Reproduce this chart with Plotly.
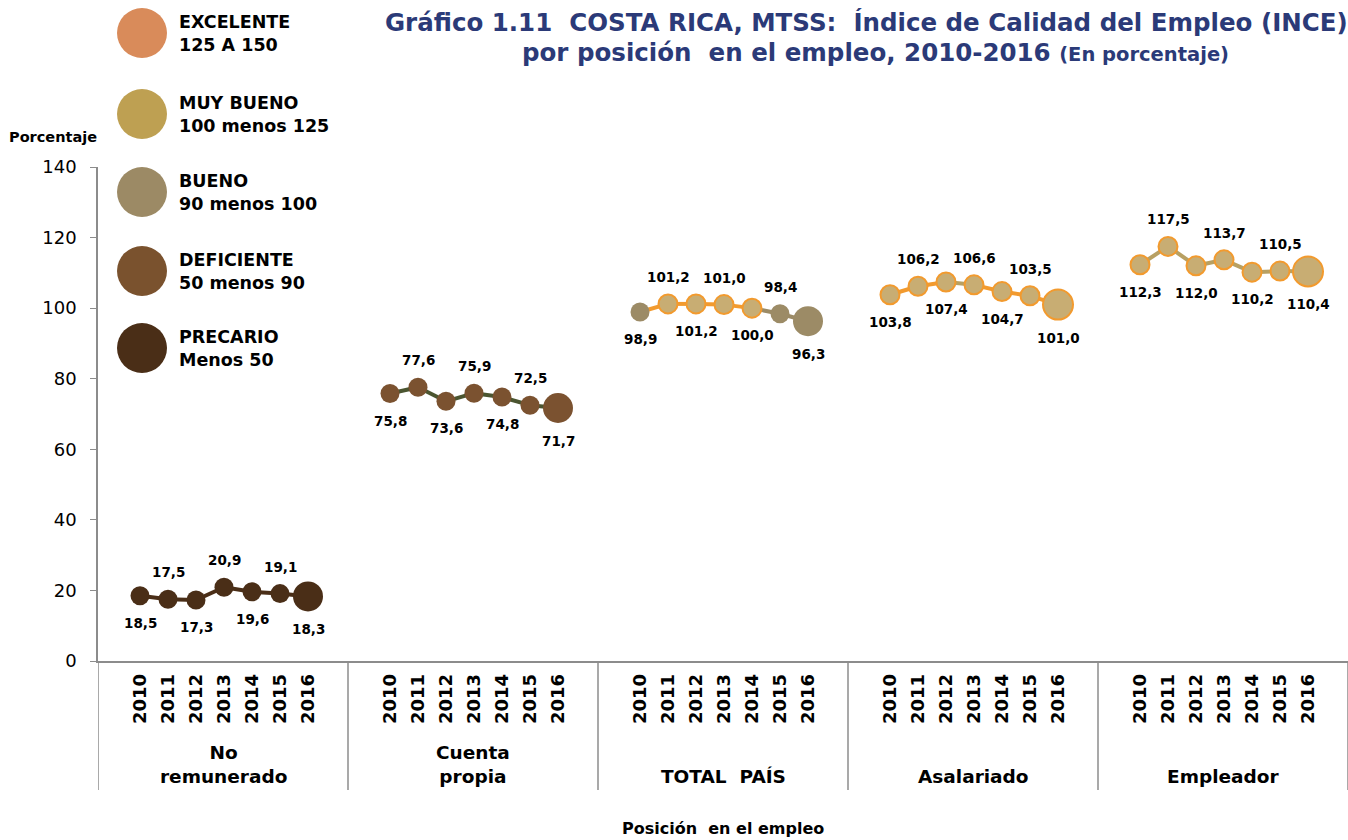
import plotly.graph_objects as go

# ── Data ──
years = ["2010", "2011", "2012", "2013", "2014", "2015", "2016"]
groups = ["No<br>remunerado", "Cuenta<br>propia", "TOTAL  PAÍS", "Asalariado", "Empleador"]

no_remunerado = [18.5, 17.5, 17.3, 20.9, 19.6, 19.1, 18.3]
cuenta_propia = [75.8, 77.6, 73.6, 75.9, 74.8, 72.5, 71.7]
total_pais = [98.9, 101.2, 101.2, 101.0, 100.0, 98.4, 96.3]
asalariado = [103.8, 106.2, 107.4, 106.6, 104.7, 103.5, 101.0]
empleador = [112.3, 117.5, 112.0, 113.7, 110.2, 110.5, 110.4]

series = [no_remunerado, cuenta_propia, total_pais, asalariado, empleador]

legend_names = ["EXCELENTE<br>125 A 150", "MUY BUENO<br>100 menos 125", "BUENO<br>90 menos 100",
                "DEFICIENTE<br>50 menos 90", "PRECARIO<br>Menos 50"]

# ── Styles ──
LEGEND_COLORS = ["#D98B5A", "#BEA052", "#9C8A65", "#7A522E", "#4A2E17"]
ORANGE = "#F29A2E"
TAN = "#C8AD73"
GREY = "#9C8B66"
SEG_TAN = "#B8A062"

def point_style(v):
    # fill, border colour, border width by quality class
    if v >= 100:
        return TAN, ORANGE, 2
    if v >= 90:
        return GREY, GREY, 0
    if v >= 50:
        return "#7B5230", "#7B5230", 0
    return "#4A2E17", "#4A2E17", 0

segment_colors = [
    ["#4A2E17"] * 6,
    ["#4B5530"] * 6,
    [ORANGE, ORANGE, ORANGE, ORANGE, GREY, GREY],
    [ORANGE, ORANGE, SEG_TAN, ORANGE, ORANGE, ORANGE],
    [SEG_TAN] * 6,
]

GROUP_W, FIRST, STEP = 250, 42, 28
L, T, PW, PH = 98, 167, 1250, 494
FONT = "DejaVu Sans"


def xpos(g, i):
    return g * GROUP_W + FIRST + i * STEP


def px(xp):
    return (xp - L) / PW


def py(yp):
    return (T + PH - yp) / PH


fig = go.Figure()
annotations = []

for g, vals in enumerate(series):
    xs = [xpos(g, i) for i in range(len(vals))]
    for i in range(len(vals) - 1):
        fig.add_trace(go.Scatter(
            x=xs[i:i + 2], y=vals[i:i + 2], mode="lines",
            line=dict(color=segment_colors[g][i], width=4),
            hoverinfo="skip", showlegend=False,
        ))
    styles = [point_style(v) for v in vals]
    fig.add_trace(go.Scatter(
        x=xs, y=vals, mode="markers",
        marker=dict(
            size=[19] * (len(vals) - 1) + [30],
            color=[s[0] for s in styles],
            line=dict(color=[s[1] for s in styles], width=[s[2] for s in styles]),
            opacity=1,
        ),
        showlegend=False, hoverinfo="skip",
    ))
    for i, v in enumerate(vals):
        if i == len(vals) - 1:
            shift = -33
        elif i % 2 == 1:
            shift = 27
        else:
            shift = -27
        annotations.append(dict(
            x=xs[i], y=v, xref="x", yref="y", text=f"{v:.1f}".replace(".", ","),
            showarrow=False, yshift=shift,
            font=dict(family=FONT, size=13.5, color="#000000", weight="bold"),
        ))
    annotations.append(dict(
        x=g * GROUP_W + GROUP_W / 2, y=py(789), xref="x", yref="paper",
        text=groups[g], showarrow=False, xanchor="center", yanchor="bottom",
        font=dict(family=FONT, size=18.5, color="#000000", weight="bold"),
    ))

shapes = []
for g in range(len(series) + 1):
    shapes.append(dict(type="line", xref="x", yref="paper", x0=g * GROUP_W, x1=g * GROUP_W,
                       y0=0, y1=py(790), line=dict(color="#8C8C8C", width=1.5)))

# legend circles and texts
leg_y = [33, 114, 192, 271, 348]
for k, name in enumerate(legend_names):
    shapes.append(dict(type="circle", xref="paper", yref="paper",
                       xsizemode="pixel", ysizemode="pixel",
                       xanchor=px(142), yanchor=py(leg_y[k]),
                       x0=-25, x1=25, y0=-25, y1=25,
                       fillcolor=LEGEND_COLORS[k], line=dict(width=0)))
    annotations.append(dict(
        x=px(177), y=py(leg_y[k]), xref="paper", yref="paper", text=name,
        showarrow=False, xanchor="left", yanchor="middle", align="left",
        font=dict(family=FONT, size=17.5, color="#000000", weight="bold"),
    ))

TITLE_COLOR = "#2B3A78"
annotations += [
    dict(x=px(383), y=py(23), xref="paper", yref="paper", xanchor="left", yanchor="middle",
         text="Gráfico 1.11  COSTA RICA, MTSS:  Índice de Calidad del Empleo (INCE)",
         showarrow=False, font=dict(family=FONT, size=24.5, color=TITLE_COLOR, weight="bold")),
    dict(x=px(520), y=py(53), xref="paper", yref="paper", xanchor="left", yanchor="middle",
         text="por posición  en el empleo, 2010-2016 <span style='font-size:19.5px'>(En porcentaje)</span>",
         showarrow=False, font=dict(family=FONT, size=24.5, color=TITLE_COLOR, weight="bold")),
    dict(x=px(53), y=py(137), xref="paper", yref="paper", xanchor="center", yanchor="middle",
         text="Porcentaje", showarrow=False,
         font=dict(family=FONT, size=14.5, color="#000000", weight="bold")),
    dict(x=0.5, y=py(828), xref="paper", yref="paper", xanchor="center", yanchor="middle",
         text="Posición  en el empleo", showarrow=False,
         font=dict(family=FONT, size=16, color="#000000", weight="bold")),
]

tickvals = [xpos(g, i) for g in range(len(series)) for i in range(len(years))]
ticktext = years * len(series)

fig.update_layout(
    width=1348, height=840,
    margin=dict(l=L, r=1348 - L - PW, t=T, b=840 - T - PH),
    paper_bgcolor="white", plot_bgcolor="white",
    showlegend=False,
    shapes=shapes, annotations=annotations,
    xaxis=dict(range=[0, PW], tickvals=tickvals, ticktext=ticktext, tickangle=-90,
               showgrid=False, zeroline=False, showline=True, linecolor="#8C8C8C", linewidth=1.5,
               ticks="", ticklabelstandoff=4,
               tickfont=dict(family=FONT, size=18, color="#000000", weight="bold")),
    yaxis=dict(range=[0, 140], dtick=20, showgrid=False, zeroline=False,
               showline=True, linecolor="#8C8C8C", linewidth=1.5,
               ticks="outside", ticklen=6, tickcolor="#8C8C8C", ticklabelstandoff=10,
               tickfont=dict(family=FONT, size=18, color="#000000")),
)

fig.write_html("out.html", config={"displayModeBar": False},
               post_script="document.body.style.margin='0';")
